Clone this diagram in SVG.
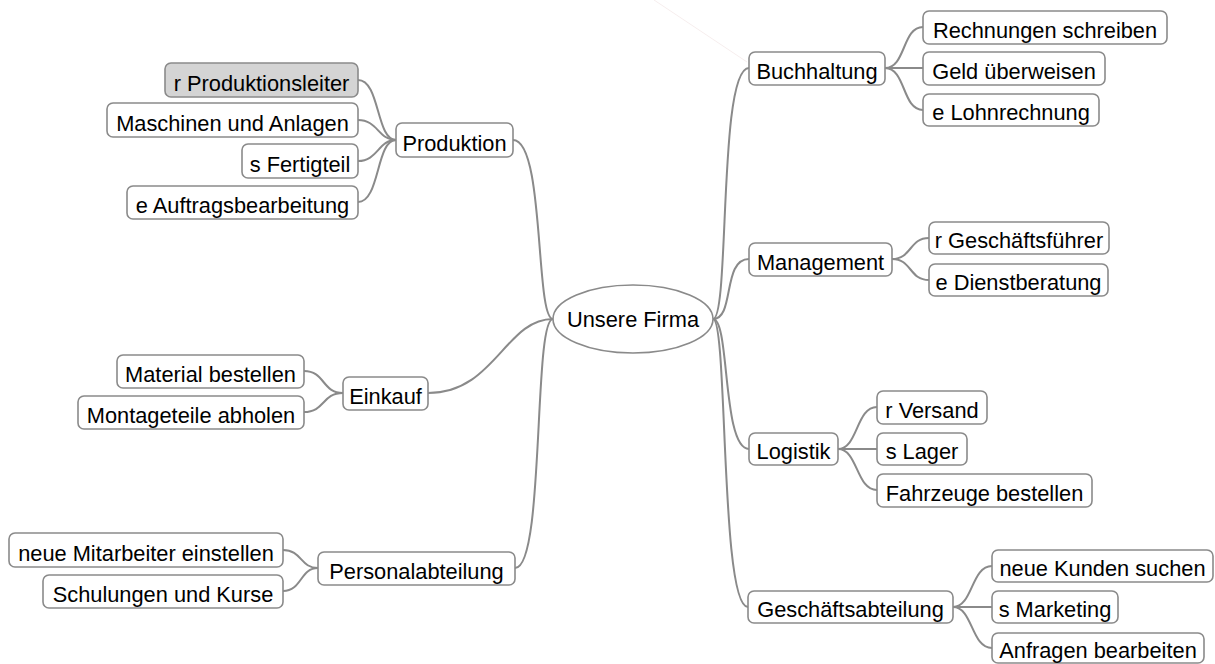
<svg xmlns="http://www.w3.org/2000/svg" width="1215" height="664" viewBox="0 0 1215 664">
<style>
.n{fill:#fff;stroke:#8a8a8a;stroke-width:1.6}
.g{fill:#d4d4d4}
.t{font-family:"Liberation Sans",Arial,sans-serif;font-size:21.8px;fill:#000;text-anchor:middle}
.c path{fill:none;stroke:#8a8a8a;stroke-width:2}
</style>
<rect width="1215" height="664" fill="#fff"/>
<line x1="654" y1="0" x2="747" y2="62" stroke="#f6eeee" stroke-width="1"/>
<g class="c" id="connectors">
<path d="M513,140 C545,140 535,319 553,319"/>
<path d="M428,393 C495,393 505,319 553,319"/>
<path d="M515,568 C545,568 533,319 553,319"/>
<path d="M713,319 C730,319 718,68 749,68"/>
<path d="M713,319 C735,319 722,259 749,259"/>
<path d="M713,319 C730,319 722,449 749,449"/>
<path d="M713,319 C728,319 720,607 748,607"/>
<path d="M358,80 C380,80 376,140 396,140"/>
<path d="M358,120 C378,120 378,140 396,140"/>
<path d="M358,161 C378,161 378,140 396,140"/>
<path d="M358,202 C380,202 376,140 396,140"/>
<path d="M304,371 C325,371 322,393 343,393"/>
<path d="M304,412 C325,412 322,393 343,393"/>
<path d="M283,550 C302,550 300,568 318,568"/>
<path d="M283,591 C302,591 300,568 318,568"/>
<path d="M885,68 C906,68 902,27 923,27"/>
<path d="M885,68 L923,68"/>
<path d="M885,68 C906,68 902,110 923,110"/>
<path d="M892,259 C912,259 909,238 929,238"/>
<path d="M892,259 C912,259 909,280 929,280"/>
<path d="M838,449 C858,449 856,407 877,407"/>
<path d="M838,449 L877,449"/>
<path d="M838,449 C858,449 856,490 877,490"/>
<path d="M953,607 C973,607 971,566 992,566"/>
<path d="M953,607 L992,607"/>
<path d="M953,607 C973,607 971,648 992,648"/>
</g>
<g id="center"><ellipse class="n" cx="633" cy="319" rx="80" ry="34"/><text class="t" x="633" y="327">Unsere Firma</text></g>
<g id="produktion"><rect class="n" x="396" y="123" width="117" height="34" rx="6"/><text class="t" x="454.5" y="151">Produktion</text></g>
<g id="produktionsleiter"><rect class="n g" x="165" y="63" width="193" height="34" rx="6"/><text class="t" x="261.5" y="91">r Produktionsleiter</text></g>
<g id="maschinen"><rect class="n" x="107" y="103" width="251" height="34" rx="6"/><text class="t" x="232.5" y="131">Maschinen und Anlagen</text></g>
<g id="fertigteil"><rect class="n" x="242" y="144" width="116" height="34" rx="6"/><text class="t" x="300" y="172">s Fertigteil</text></g>
<g id="auftrag"><rect class="n" x="127" y="186" width="231" height="33" rx="6"/><text class="t" x="242.5" y="213">e Auftragsbearbeitung</text></g>
<g id="einkauf"><rect class="n" x="343" y="377" width="85" height="33" rx="6"/><text class="t" x="385.5" y="404">Einkauf</text></g>
<g id="material"><rect class="n" x="117" y="355" width="187" height="33" rx="6"/><text class="t" x="210.5" y="382">Material bestellen</text></g>
<g id="montage"><rect class="n" x="78" y="396" width="226" height="33" rx="6"/><text class="t" x="191" y="423">Montageteile abholen</text></g>
<g id="personal"><rect class="n" x="318" y="552" width="197" height="33" rx="6"/><text class="t" x="416.5" y="579">Personalabteilung</text></g>
<g id="mitarbeiter"><rect class="n" x="9" y="533" width="274" height="34" rx="6"/><text class="t" x="146" y="561">neue Mitarbeiter einstellen</text></g>
<g id="schulungen"><rect class="n" x="43" y="575" width="240" height="33" rx="6"/><text class="t" x="163" y="602">Schulungen und Kurse</text></g>
<g id="buchhaltung"><rect class="n" x="749" y="52" width="136" height="33" rx="6"/><text class="t" x="817" y="79">Buchhaltung</text></g>
<g id="rechnungen"><rect class="n" x="923" y="11" width="244" height="33" rx="6"/><text class="t" x="1045" y="38">Rechnungen schreiben</text></g>
<g id="geld"><rect class="n" x="923" y="52" width="182" height="33" rx="6"/><text class="t" x="1014" y="79">Geld überweisen</text></g>
<g id="lohn"><rect class="n" x="923" y="94" width="176" height="32" rx="6"/><text class="t" x="1011" y="120">e Lohnrechnung</text></g>
<g id="management"><rect class="n" x="749" y="243" width="143" height="33" rx="6"/><text class="t" x="820.5" y="270">Management</text></g>
<g id="gf"><rect class="n" x="929" y="222" width="180" height="32" rx="6"/><text class="t" x="1019" y="248">r Geschäftsführer</text></g>
<g id="dienst"><rect class="n" x="929" y="264" width="179" height="32" rx="6"/><text class="t" x="1018.5" y="290">e Dienstberatung</text></g>
<g id="logistik"><rect class="n" x="749" y="433" width="89" height="32" rx="6"/><text class="t" x="793.5" y="459">Logistik</text></g>
<g id="versand"><rect class="n" x="877" y="391" width="110" height="33" rx="6"/><text class="t" x="932" y="418">r Versand</text></g>
<g id="lager"><rect class="n" x="877" y="433" width="90" height="32" rx="6"/><text class="t" x="922" y="459">s Lager</text></g>
<g id="fahrzeuge"><rect class="n" x="877" y="474" width="215" height="33" rx="6"/><text class="t" x="984.5" y="501">Fahrzeuge bestellen</text></g>
<g id="geschaeft"><rect class="n" x="748" y="591" width="205" height="32" rx="6"/><text class="t" x="850.5" y="617">Geschäftsabteilung</text></g>
<g id="kunden"><rect class="n" x="992" y="550" width="221" height="32" rx="6"/><text class="t" x="1102.5" y="576">neue Kunden suchen</text></g>
<g id="marketing"><rect class="n" x="992" y="591" width="126" height="32" rx="6"/><text class="t" x="1055" y="617">s Marketing</text></g>
<g id="anfragen"><rect class="n" x="992" y="633" width="212" height="30" rx="6"/><text class="t" x="1098" y="658">Anfragen bearbeiten</text></g>
</svg>
